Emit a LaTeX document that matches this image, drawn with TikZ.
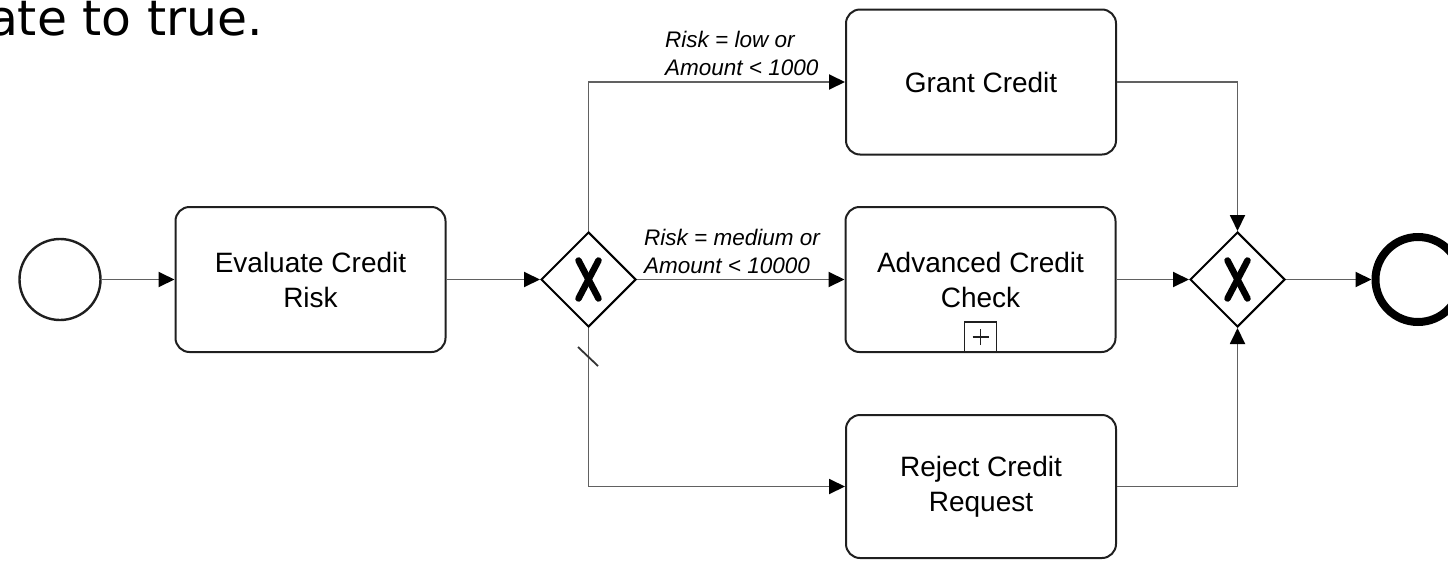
\documentclass[tikz,border=0pt]{standalone}
\usepackage{fontspec}
\setmainfont{Liberation Sans}
\newfontfamily\dejavu{DejaVu Sans}
\usetikzlibrary{shapes.geometric,arrows.meta}
\tikzset{
  task/.style={draw=black!88, line width=2pt, rounded corners=14pt, fill=white,
    minimum width=270pt, minimum height=145pt, align=center, inner sep=0pt,
    font=\fontsize{28}{35}\selectfont},
  gateway/.style={diamond, draw=black, line width=2pt, fill=white, aspect=1,
    minimum width=95pt, minimum height=95pt, inner sep=0pt},
  flow/.style={draw=black!62, line width=1.9pt,
    -{Triangle[length=16pt,width=15pt,black]}},
  xmark/.style={line width=6.5pt, line cap=round, black},
  cond/.style={anchor=north west, align=left, inner sep=0pt,
    font=\fontsize{22.5}{27.5}\selectfont\itshape},
  marker/.style={draw=black!88, line width=1.6pt}
}
\begin{document}
\begin{tikzpicture}[x=1pt,y=-1pt]
\useasboundingbox (0,0) rectangle (1448,560);

\node[anchor=base east, inner sep=0pt, font=\dejavu\fontsize{48.8}{58}\selectfont] (top) at (263,35) {ate to true.};

\node[circle, draw=black!88, line width=2.4pt, minimum size=81pt, inner sep=0pt] (start) at (60,279.5) {};
\node[task] (eval) at (310.5,279.5) {Evaluate Credit\\Risk};
\node[gateway] (g1) at (588.5,279.5) {};
\node[task] (grant) at (981,82) {Grant Credit};
\node[task] (adv) at (980.5,279.5) {Advanced Credit\\Check};
\node[task, minimum height=143pt] (reject) at (981,486.5) {Reject Credit\\Request};
\node[gateway] (g2) at (1237.5,279.5) {};
\node[circle, draw=black, line width=8pt, minimum size=85pt, inner sep=0pt] (end) at (1418,279.5) {};

% X markers
\draw[xmark] ([shift={(-10,-19)}]g1.center) -- ([shift={(10,19)}]g1.center);
\draw[xmark] ([shift={(10,-19)}]g1.center) -- ([shift={(-10,19)}]g1.center);
\draw[xmark] ([shift={(-10,-19)}]g2.center) -- ([shift={(10,19)}]g2.center);
\draw[xmark] ([shift={(10,-19)}]g2.center) -- ([shift={(-10,19)}]g2.center);

% sub-process marker
\node[marker, minimum width=32pt, minimum height=30pt, anchor=south, inner sep=0pt] (plus) at (adv.south) {};
\draw[line width=1.6pt, black!88] ([xshift=-8pt]plus.center) -- ([xshift=8pt]plus.center);
\draw[line width=1.6pt, black!88] ([yshift=-8pt]plus.center) -- ([yshift=8pt]plus.center);

% flows
\draw[flow] (start) -- (eval);
\draw[flow] (eval) -- (g1);
\draw[flow] (g1.north) |- (grant.west);
\draw[flow] (g1) -- (adv);
\draw[flow] (g1.south) |- (reject.west);
\draw[flow] (grant.east) -| (g2.north);
\draw[flow] (adv) -- (g2);
\draw[flow] (reject.east) -| (g2.south);
\draw[flow] (g2) -- (end);

% default flow slash
\draw[line width=1.8pt, black!80] (578,347) -- (598,366);

% conditions
\node[cond] (c1) at (665,31) {Risk = low or\\Amount < 1000};
\node[cond] (c2) at (644,229) {Risk = medium or\\Amount < 10000};
\end{tikzpicture}
\end{document}
